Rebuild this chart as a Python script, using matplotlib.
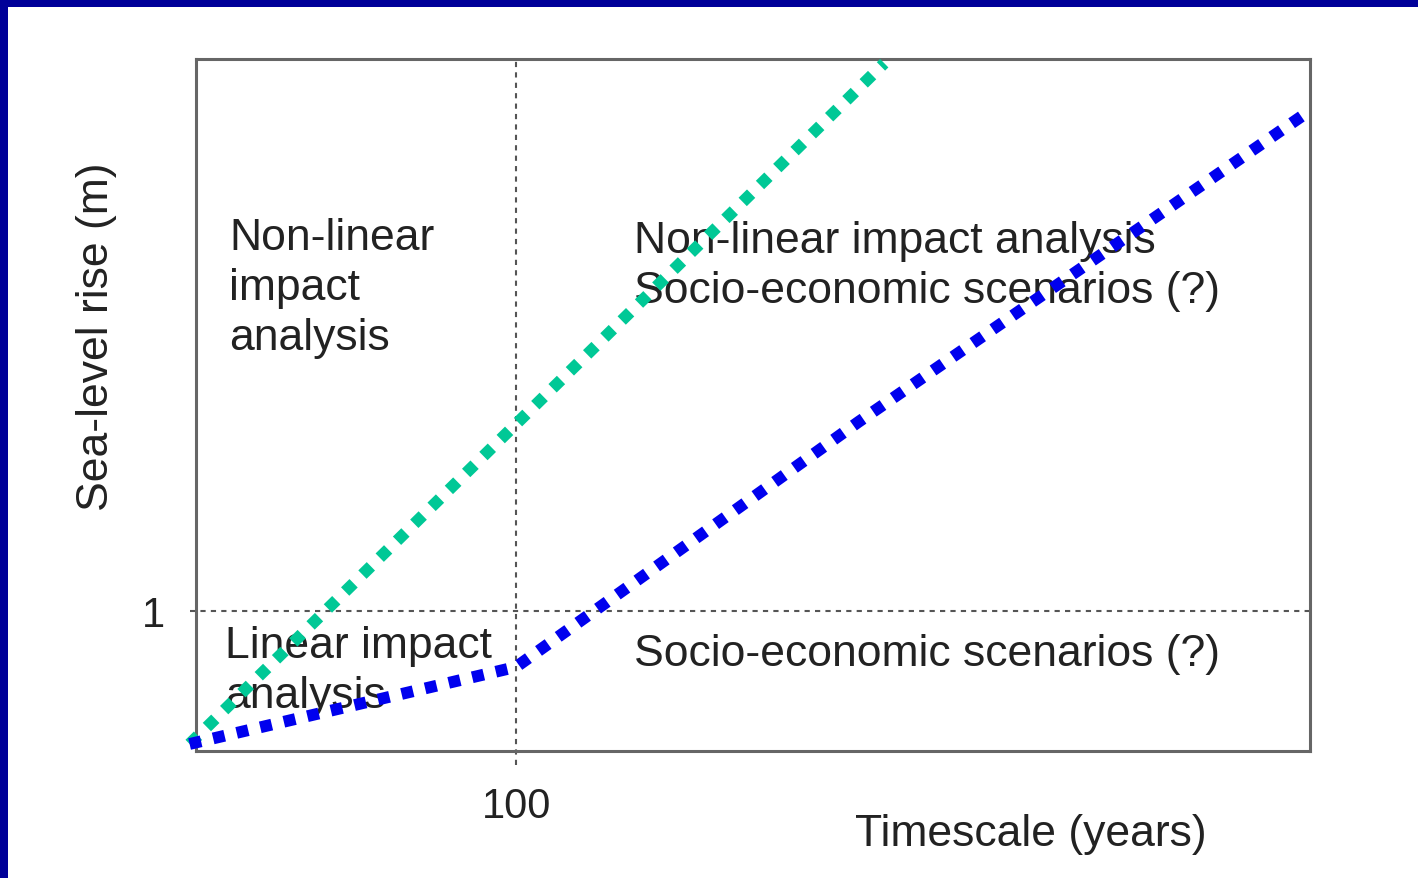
import matplotlib
matplotlib.use("Agg")
import matplotlib.pyplot as plt
from matplotlib.patches import Rectangle

plt.rcParams['font.family'] = ['Liberation Sans', 'DejaVu Sans']

# Data (x: timescale in years, y: sea-level rise in m)
green_x = [-2, 215]
green_y = [0.05, 4.91]
blue_x = [-2, 100, 207, 346.6]
blue_y = [0.05, 0.6, 2.35, 4.55]
x_tick_vals = [100]
x_tick_labels = ['100']
y_tick_vals = [1]
y_tick_labels = ['1']

W, H = 1418, 879
fig = plt.figure(figsize=(W / 100, H / 100), dpi=100)
fig.patch.set_facecolor('white')

navy = '#000099'
fig.patches.append(Rectangle((0, 1 - 8 / H), 1, 8 / H, transform=fig.transFigure,
                             facecolor=navy, edgecolor='none', zorder=-1))
fig.patches.append(Rectangle((0, 0), 8 / W, 1, transform=fig.transFigure,
                             facecolor=navy, edgecolor='none', zorder=-1))

ax = fig.add_axes([196 / W, 1 - 752 / H, (1310 - 196) / W, (752 - 60) / H])
ax.set_xlim(0, 348)
ax.set_ylim(0, 4.94)
for s in ax.spines.values():
    s.set_color('#666666')
    s.set_linewidth(2.2)

# reference lines
ref_style = dict(color='#555555', lw=1.5, linestyle=(0, (2.5, 2.5)), clip_on=False, zorder=1)
ax.plot([100, 100], [-0.1, 4.94], **ref_style)
ax.plot([-2, 348], [1, 1], **ref_style)

ax.set_xticks(x_tick_vals)
ax.set_xticklabels(x_tick_labels)
ax.set_yticks(y_tick_vals)
ax.set_yticklabels(y_tick_labels)
ax.tick_params(axis='both', length=0, labelsize=30, labelcolor='#222222')
ax.tick_params(axis='x', pad=25)
ax.tick_params(axis='y', pad=22)

txt = dict(fontsize=32, color='#222222', va='top', ha='left', linespacing=1.27, zorder=2)
ax.text(10.3, 3.81, 'Non-linear\nimpact\nanalysis', **txt)
ax.text(136.9, 3.79, 'Non-linear impact analysis\nSocio-economic scenarios (?)', **txt)
ax.text(9.1, 0.90, 'Linear impact\nanalysis', **txt)
ax.text(136.9, 0.84, 'Socio-economic scenarios (?)', **txt)

ax.plot(green_x, green_y, color='#00c896', lw=8.5, linestyle=(0, (1.0, 1.05)),
        dash_capstyle='butt', clip_on=False, zorder=3)
ax.plot(blue_x, blue_y, color='#0000ee', lw=8.5, linestyle=(0, (1.0, 1.05)),
        dash_capstyle='butt', clip_on=False, zorder=4)

fig.text(1031 / W, 1 - 835 / H, 'Timescale (years)', fontsize=32, color='#222222',
         ha='center', va='center')
fig.text(97 / W, 1 - 337 / H, 'Sea-level rise (m)', fontsize=32, color='#222222',
         ha='center', va='center', rotation=90)

fig.savefig('out.png', dpi=100, facecolor='white')
